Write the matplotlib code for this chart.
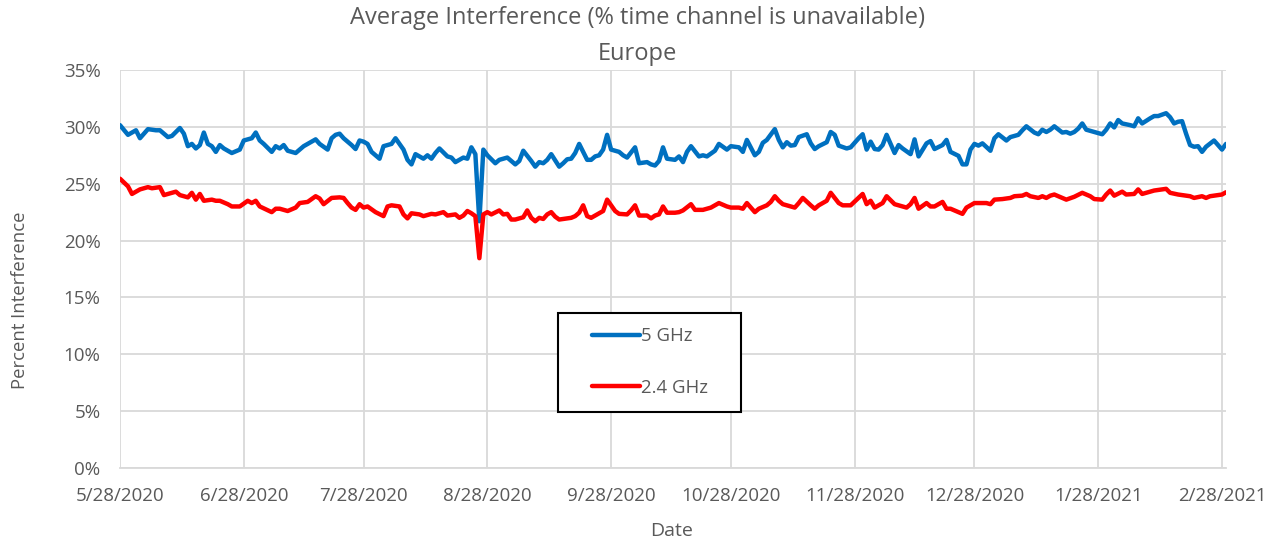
import datetime as dt

import matplotlib
matplotlib.use("Agg")
import matplotlib.pyplot as plt
from matplotlib.patches import Rectangle
from matplotlib.ticker import FuncFormatter

# Daily average interference, sampled as (days since 5/28/2020, percent)
start_date = dt.date(2020, 5, 28)

days_5ghz = [
    0, 2, 4, 5, 7, 9, 10, 12, 13, 15, 16, 17, 18, 19, 20, 21, 22, 23, 24, 25,
    26, 28, 30, 31, 33, 34, 35, 36, 38, 39, 40, 41, 42, 44, 46, 47, 49, 50, 52, 53,
    54, 55, 56, 58, 59, 60, 61, 62, 63, 65, 66, 68, 69, 71, 72, 73, 74, 75, 76, 77,
    78, 79, 80, 82, 83, 84, 86, 87, 88, 89, 90, 91, 92, 94, 95, 96, 97, 99, 100, 101,
    103, 104, 105, 106, 107, 108, 110, 111, 112, 113, 114, 115, 117, 118, 119, 120, 121, 122, 123, 125,
    126, 127, 129, 130, 132, 133, 134, 135, 136, 137, 139, 140, 141, 142, 143, 145, 146, 147, 149, 150,
    152, 153, 155, 156, 157, 159, 160, 161, 162, 164, 165, 166, 167, 168, 169, 170, 172, 173, 174, 175,
    177, 178, 179, 180, 182, 183, 185, 186, 187, 188, 189, 190, 191, 192, 194, 195, 196, 198, 199, 200,
    202, 203, 204, 206, 207, 208, 210, 211, 212, 213, 214, 215, 216, 218, 219, 220, 222, 223, 224, 225,
    226, 227, 229, 230, 231, 232, 233, 234, 236, 237, 238, 239, 240, 241, 242, 244, 246, 247, 248, 249,
    250, 251, 253, 254, 255, 256, 258, 259, 260, 262, 263, 264, 265, 266, 267, 268, 269, 270, 271, 272,
    274, 275, 276, 277,
]
pct_5ghz = [
    30.15, 29.3, 29.7, 29.0, 29.8, 29.7, 29.7, 29.1, 29.2, 29.9, 29.4, 28.3, 28.5, 28.1, 28.4, 29.5, 28.5, 28.3, 27.8, 28.4,
    28.1, 27.7, 28.0, 28.8, 29.0, 29.5, 28.8, 28.5, 27.8, 28.3, 28.1, 28.4, 27.9, 27.7, 28.3, 28.5, 28.9, 28.5, 28.0, 29.0,
    29.3, 29.4, 29.0, 28.4, 28.05, 28.8, 28.7, 28.5, 27.8, 27.2, 28.3, 28.5, 29.0, 28.0, 27.1, 26.7, 27.6, 27.4, 27.2, 27.5,
    27.2, 27.7, 28.1, 27.4, 27.3, 26.9, 27.3, 27.2, 28.2, 27.6, 21.7, 28.0, 27.5, 26.8, 27.1, 27.2, 27.3, 26.7, 27.0, 27.9,
    27.0, 26.5, 26.9, 26.8, 27.1, 27.6, 26.5, 26.8, 27.15, 27.2, 27.7, 28.5, 27.1, 27.1, 27.4, 27.5, 28.0, 29.3, 28.0, 27.8,
    27.5, 27.3, 28.2, 26.8, 26.9, 26.7, 26.6, 27.0, 28.2, 27.2, 27.1, 27.4, 26.9, 27.8, 28.3, 27.4, 27.5, 27.4, 27.9, 28.5,
    28.0, 28.3, 28.2, 27.8, 28.85, 27.5, 27.8, 28.6, 28.85, 29.8, 28.85, 28.2, 28.65, 28.35, 28.4, 29.1, 29.35, 28.55, 28.05, 28.3,
    28.65, 29.55, 29.3, 28.35, 28.1, 28.2, 29.0, 29.35, 28.0, 28.7, 28.05, 28.0, 28.4, 29.3, 27.7, 28.4, 28.1, 27.6, 28.9, 27.4,
    28.55, 28.75, 28.05, 28.4, 28.85, 27.8, 27.45, 26.7, 26.7, 28.0, 28.5, 28.35, 28.55, 27.9, 29.0, 29.35, 28.8, 29.1, 29.2, 29.3,
    29.7, 30.05, 29.5, 29.35, 29.75, 29.55, 29.75, 30.05, 29.5, 29.55, 29.4, 29.55, 29.85, 30.3, 29.75, 29.55, 29.35, 29.75, 30.3, 29.95,
    30.6, 30.3, 30.15, 30.05, 30.75, 30.3, 30.75, 30.95, 30.95, 31.2, 30.85, 30.3, 30.45, 30.5, 29.4, 28.4, 28.25, 28.3, 27.8, 28.25,
    28.8, 28.4, 28.0, 28.5,
]

days_24ghz = [
    0, 2, 3, 5, 7, 8, 10, 11, 13, 14, 15, 17, 18, 19, 20, 21, 23, 24, 25, 27,
    28, 30, 32, 33, 34, 35, 38, 39, 40, 42, 44, 45, 47, 49, 50, 51, 53, 55, 56, 57,
    58, 59, 60, 61, 62, 64, 66, 67, 68, 70, 71, 72, 73, 75, 76, 78, 79, 81, 82, 84,
    85, 86, 87, 88, 89, 90, 91, 92, 93, 95, 96, 97, 98, 99, 101, 102, 103, 104, 105, 106,
    107, 108, 109, 110, 112, 113, 114, 115, 116, 117, 118, 119, 121, 122, 124, 125, 127, 128, 129, 130,
    132, 133, 134, 135, 136, 137, 139, 140, 141, 143, 144, 146, 148, 150, 152, 153, 155, 156, 157, 159,
    160, 162, 163, 164, 165, 166, 168, 169, 170, 171, 173, 174, 175, 177, 178, 180, 181, 183, 186, 187,
    188, 189, 191, 192, 194, 195, 197, 198, 199, 200, 202, 203, 204, 206, 207, 208, 210, 211, 212, 213,
    214, 215, 217, 218, 219, 221, 223, 224, 226, 227, 228, 230, 231, 232, 233, 234, 236, 237, 239, 241,
    243, 244, 246, 247, 248, 249, 251, 252, 254, 255, 256, 258, 259, 261, 262, 263, 265, 267, 268, 269,
    271, 272, 273, 274, 276, 277,
]
pct_24ghz = [
    25.44, 24.77, 24.1, 24.5, 24.7, 24.6, 24.7, 24.0, 24.2, 24.3, 24.0, 23.8, 24.2, 23.6, 24.1, 23.5, 23.6, 23.5, 23.5, 23.2,
    23.0, 23.0, 23.5, 23.3, 23.5, 23.0, 22.5, 22.8, 22.8, 22.6, 22.9, 23.3, 23.4, 23.9, 23.7, 23.2, 23.75, 23.8, 23.75, 23.3,
    22.9, 22.7, 23.2, 22.9, 23.0, 22.5, 22.15, 23.0, 23.1, 23.0, 22.3, 21.95, 22.4, 22.3, 22.15, 22.35, 22.3, 22.5, 22.2, 22.3,
    22.0, 22.2, 22.6, 22.4, 22.15, 18.45, 22.3, 22.5, 22.3, 22.65, 22.3, 22.35, 21.85, 21.85, 22.05, 22.65, 22.0, 21.7, 22.0, 21.9,
    22.3, 22.5, 22.1, 21.85, 21.95, 22.0, 22.15, 22.45, 23.1, 22.15, 22.0, 22.2, 22.6, 23.6, 22.6, 22.35, 22.3, 22.65, 23.1, 22.2,
    22.2, 21.95, 22.2, 22.3, 23.0, 22.45, 22.45, 22.5, 22.65, 23.2, 22.7, 22.7, 22.9, 23.3, 23.0, 22.9, 22.9, 22.8, 23.3, 22.5,
    22.8, 23.1, 23.4, 23.9, 23.5, 23.2, 23.0, 22.9, 23.3, 23.75, 23.1, 22.8, 23.1, 23.5, 24.2, 23.3, 23.1, 23.1, 24.1, 23.2,
    23.5, 22.9, 23.3, 23.9, 23.2, 23.1, 22.9, 23.2, 23.75, 22.8, 23.3, 23.0, 23.0, 23.4, 22.8, 22.8, 22.5, 22.35, 22.9, 23.1,
    23.3, 23.3, 23.3, 23.2, 23.6, 23.65, 23.75, 23.9, 23.95, 24.1, 23.9, 23.75, 23.9, 23.75, 23.95, 24.05, 23.75, 23.6, 23.85, 24.2,
    23.9, 23.65, 23.6, 24.05, 24.4, 23.95, 24.3, 24.05, 24.1, 24.5, 24.1, 24.3, 24.4, 24.5, 24.55, 24.2, 24.05, 23.95, 23.9, 23.75,
    23.9, 23.75, 23.9, 23.95, 24.05, 24.25,
]

tick_labels = ["5/28/2020", "6/28/2020", "7/28/2020", "8/28/2020", "9/28/2020",
               "10/28/2020", "11/28/2020", "12/28/2020", "1/28/2021", "2/28/2021"]

y_ticks = [0, 5, 10, 15, 20, 25, 30, 35]

BLUE = "#0070C0"
RED = "#FF0000"
TEXT = "#595959"
GRID = "#D9D9D9"
FONT = ["Open Sans", "DejaVu Sans"]

plt.rcParams["font.family"] = FONT

W, H = 1282, 544


def to_dates(offsets):
    return [start_date + dt.timedelta(days=int(d)) for d in offsets]


fig = plt.figure(figsize=(W / 100, H / 100), dpi=100)
ax = fig.add_axes([120 / W, 1 - 468 / H, (1226 - 120) / W, (468 - 70) / H])

ax.plot(to_dates(days_5ghz), pct_5ghz, color=BLUE, lw=3.2, label="5 GHz",
        solid_joinstyle="round", solid_capstyle="round", zorder=3)
ax.plot(to_dates(days_24ghz), pct_24ghz, color=RED, lw=3.2, label="2.4 GHz",
        solid_joinstyle="round", solid_capstyle="round", zorder=3)

ax.set_xlim(start_date, start_date + dt.timedelta(days=277))
ax.set_ylim(0, 35)

tick_dates = [dt.datetime.strptime(s, "%m/%d/%Y").date() for s in tick_labels]
ax.set_xticks(tick_dates)
ax.set_xticklabels(tick_labels)
ax.set_yticks(y_ticks)
ax.yaxis.set_major_formatter(FuncFormatter(lambda v, _: f"{int(v)}%"))

ax.grid(True, color=GRID, lw=1.3, zorder=0)
ax.set_axisbelow(True)
for side in ("top", "right", "left"):
    ax.spines[side].set_visible(False)
ax.spines["bottom"].set_color(GRID)
ax.spines["bottom"].set_linewidth(1.3)

ax.tick_params(axis="both", length=0, colors=TEXT, labelsize=13.5)
ax.tick_params(axis="x", pad=14)
ax.tick_params(axis="y", pad=14)

ax.set_xlabel("Date", color=TEXT, fontsize=14)
ax.xaxis.set_label_coords((672 - 120) / 1106, (468 - 531) / 398)
ax.set_ylabel("Percent Interference", color=TEXT, fontsize=13.3)
ax.yaxis.set_label_coords((20 - 120) / 1106, (468 - 300) / 398)
ax.yaxis.label.set_verticalalignment("center")
ax.xaxis.label.set_verticalalignment("center")

fig.text(637 / W, 1 - 18 / H, "Average Interference (% time channel is unavailable)",
         ha="center", va="center", color=TEXT, fontsize=17)
fig.text(637 / W, 1 - 54 / H, "Europe", ha="center", va="center", color=TEXT, fontsize=17)

# Legend: framed box with the two series entries inside it
ax.add_patch(Rectangle((558 / W, 1 - 412 / H), (741 - 558) / W, (412 - 313) / H,
                       transform=fig.transFigure, facecolor="white",
                       edgecolor="black", lw=1.5, zorder=5, clip_on=False))
leg = ax.legend(loc="center left", bbox_to_anchor=(592 / W, 1 - 362 / H),
                bbox_transform=fig.transFigure, frameon=False, fontsize=13.4,
                labelcolor=TEXT, handlelength=2.6, handletextpad=0.05,
                labelspacing=1.8, borderpad=0, borderaxespad=0)
leg.set_zorder(6)
for line in leg.get_lines():
    line.set_linewidth(3.2)

fig.savefig("out.png", dpi=100)
